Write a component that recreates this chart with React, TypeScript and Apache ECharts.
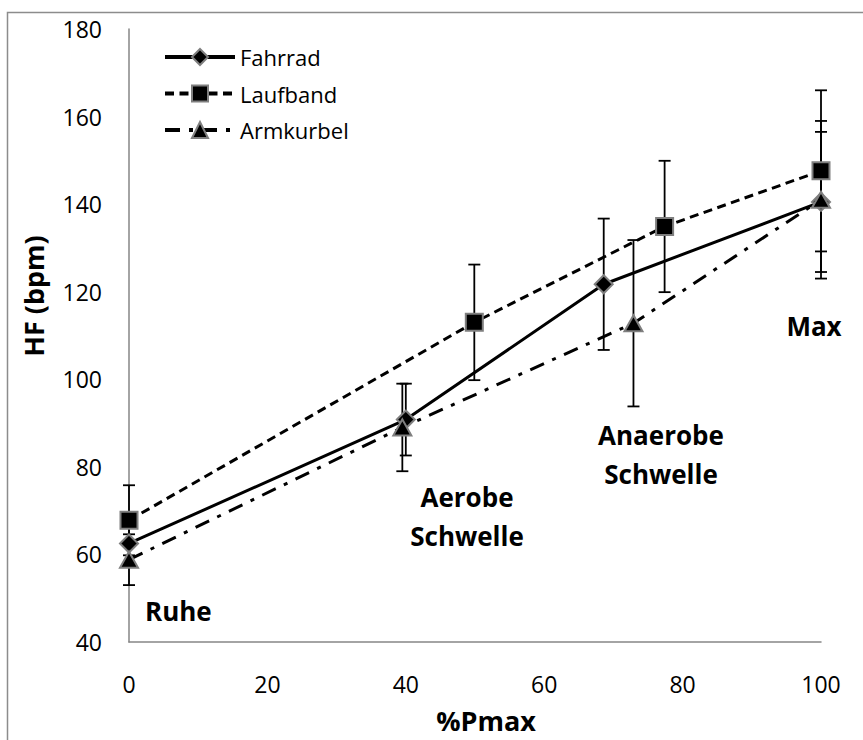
import React, { useEffect, useRef } from 'react';
import * as echarts from 'echarts';

// ---- data ----
const seriesNames = ['Fahrrad', 'Laufband', 'Armkurbel'];

const fahrradX = [0, 40, 68.6, 100];
const fahrradY = [62.5, 90.8, 121.7, 140.5];
const fahrradErr = [5, 8.2, 15, 16];

const laufbandX = [0, 49.9, 77.4, 100];
const laufbandY = [67.8, 113, 134.9, 147.6];
const laufbandErr = [8, 13.2, 15, 18.4];

const armkurbelX = [0, 39.5, 72.9, 100];
const armkurbelY = [58.8, 89, 112.8, 141];
const armkurbelErr = [5.8, 10, 19, 18];

const xAxisTitle = '%Pmax';
const yAxisTitle = 'HF (bpm)';
const phaseLabels = ['Ruhe', 'Aerobe\nSchwelle', 'Anaerobe\nSchwelle', 'Max'];

const FONT = "'Open Sans', sans-serif";

function zip(xs: number[], ys: number[]) {
  return xs.map((x, i) => [x, ys[i]]);
}
function zip3(xs: number[], ys: number[], es: number[]) {
  return xs.map((x, i) => [x, ys[i], es[i]]);
}

function errorSeries(name: string, data: number[][]) {
  return {
    name: name + ' SD',
    type: 'custom',
    z: 1,
    clip: false,
    encode: { x: 0, y: 1 },
    data,
    renderItem: (params: any, api: any) => {
      const x = api.value(0);
      const y = api.value(1);
      const e = api.value(2);
      const top = api.coord([x, y + e]);
      const bot = api.coord([x, y - e]);
      const half = 6;
      const st = { stroke: '#000', lineWidth: 1.8 };
      return {
        type: 'group',
        children: [
          { type: 'line', shape: { x1: top[0], y1: top[1], x2: bot[0], y2: bot[1] }, style: st },
          { type: 'line', shape: { x1: top[0] - half, y1: top[1], x2: top[0] + half, y2: top[1] }, style: st },
          { type: 'line', shape: { x1: bot[0] - half, y1: bot[1], x2: bot[0] + half, y2: bot[1] }, style: st },
        ],
      };
    },
  };
}

const markerStyle = { color: '#000', borderColor: '#7f7f7f', borderWidth: 2 };

export default function App() {
  const ref = useRef<HTMLDivElement>(null);
  useEffect(() => {
    if (!ref.current) return;
    const chart = echarts.init(ref.current, undefined, { renderer: 'svg' });
    const axisLine = { show: true, lineStyle: { color: '#868686', width: 1.5 } };
    const bold = { fontFamily: FONT, fontWeight: 'bold', fill: '#000' };
    chart.setOption({
      animation: false,
      backgroundColor: '#fff',
      grid: { left: 129, right: 42, top: 29, bottom: 98 },
      xAxis: {
        type: 'value',
        min: 0,
        max: 100,
        interval: 20,
        axisLine,
        axisTick: { show: false },
        splitLine: { show: false },
        axisLabel: { fontSize: 23, color: '#000', fontFamily: FONT, margin: 30 },
      },
      yAxis: {
        type: 'value',
        min: 40,
        max: 180,
        interval: 20,
        axisLine,
        axisTick: { show: false },
        splitLine: { show: false },
        axisLabel: { fontSize: 23, color: '#000', fontFamily: FONT, margin: 27 },
      },
      legend: {
        data: seriesNames,
        orient: 'vertical',
        left: 163,
        top: 46,
        padding: 0,
        itemWidth: 70,
        itemHeight: 20,
        itemGap: 14.5,
        lineStyle: { width: 4 },
        textStyle: { fontSize: 22, color: '#000', fontFamily: FONT },
      },
      graphic: [
        {
          type: 'rect',
          silent: true,
          shape: { x: 7.5, y: 12.5, width: 1000, height: 1000 },
          style: { fill: 'none', stroke: '#8c8c8c', lineWidth: 1.5 },
        },
        {
          type: 'text',
          x: 33,
          y: 296,
          rotation: Math.PI / 2,
          style: { ...bold, text: yAxisTitle, fontSize: 27, align: 'center', verticalAlign: 'middle' },
        },
        {
          type: 'text',
          x: 486,
          y: 720,
          style: { ...bold, text: xAxisTitle, fontSize: 27, align: 'center', verticalAlign: 'middle' },
        },
        {
          type: 'text',
          x: 145,
          y: 611,
          style: { ...bold, text: phaseLabels[0], fontSize: 26, align: 'left', verticalAlign: 'middle' },
        },
        {
          type: 'text',
          x: 467,
          y: 477,
          style: { ...bold, text: phaseLabels[1], fontSize: 26, lineHeight: 39, align: 'center', verticalAlign: 'top' },
        },
        {
          type: 'text',
          x: 661,
          y: 415,
          style: { ...bold, text: phaseLabels[2], fontSize: 26, lineHeight: 39, align: 'center', verticalAlign: 'top' },
        },
        {
          type: 'text',
          x: 814,
          y: 326,
          style: { ...bold, text: phaseLabels[3], fontSize: 26, align: 'center', verticalAlign: 'middle' },
        },
      ],
      series: [
        errorSeries('Fahrrad', zip3(fahrradX, fahrradY, fahrradErr)),
        errorSeries('Laufband', zip3(laufbandX, laufbandY, laufbandErr)),
        errorSeries('Armkurbel', zip3(armkurbelX, armkurbelY, armkurbelErr)),
        {
          name: seriesNames[0],
          type: 'line',
          z: 3,
          data: zip(fahrradX, fahrradY),
          symbol: 'diamond',
          symbolSize: 18,
          itemStyle: markerStyle,
          lineStyle: { color: '#000', width: 3, type: 'solid' },
        },
        {
          name: seriesNames[1],
          type: 'line',
          z: 3,
          data: zip(laufbandX, laufbandY),
          symbol: 'rect',
          symbolSize: 17,
          itemStyle: markerStyle,
          lineStyle: { color: '#000', width: 3, type: [9, 5.5] },
        },
        {
          name: seriesNames[2],
          type: 'line',
          z: 3,
          data: zip(armkurbelX, armkurbelY),
          symbol: 'triangle',
          symbolSize: [18, 16],
          itemStyle: markerStyle,
          lineStyle: { color: '#000', width: 3, type: [15, 9, 4, 9] },
        },
      ],
    });
    return () => chart.dispose();
  }, []);
  return (
    <div
      ref={ref}
      style={{ position: 'absolute', left: 0, top: 0, width: 863, height: 740 }}
    />
  );
}
